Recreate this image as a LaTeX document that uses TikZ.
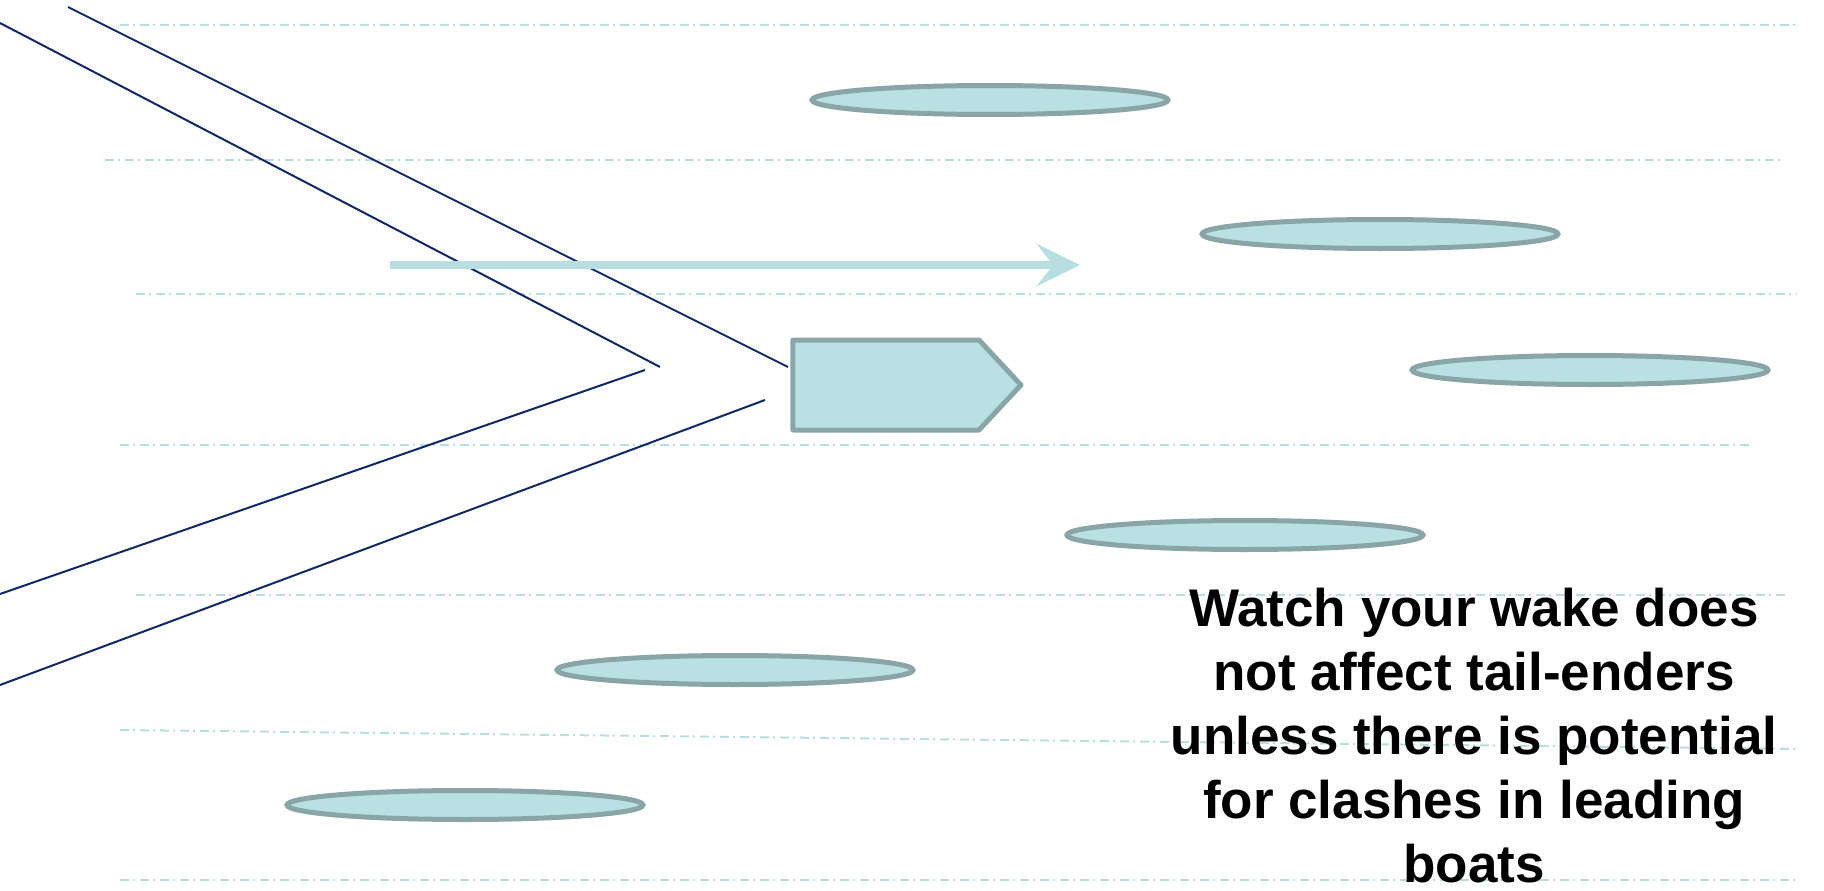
\documentclass[tikz,border=0pt]{standalone}
\usepackage{fontspec}
\setmainfont{Liberation Sans}
\usepackage{tikz}
\usetikzlibrary{arrows.meta, shapes.geometric, shapes.symbols}

\definecolor{lanecol}{HTML}{B7DEE0}
\definecolor{boatfill}{HTML}{B9E0E3}
\definecolor{boatline}{HTML}{8AA5A7}
\definecolor{wakenavy}{HTML}{10286A}

\begin{document}
\begin{tikzpicture}[
  x=1pt, y=-1pt,
  lane/.style={draw=lanecol, line width=2pt,
               dash pattern=on 9pt off 4pt on 2pt off 5pt},
  rival/.style={ellipse, draw=boatline, fill=boatfill, line width=5pt,
                minimum width=356pt, minimum height=29pt, inner sep=0pt},
  ownboat/.style={signal, signal to=east, signal pointer angle=94,
                  draw=boatline, fill=boatfill, line width=5pt, line join=round,
                  minimum width=228pt, minimum height=90pt, inner sep=0pt},
  wake/.style={draw=wakenavy, line width=2pt},
  course/.style={draw=lanecol, line width=8pt,
                 -{Stealth[length=43pt, width=42pt, inset=16pt]}},
]
\useasboundingbox (0,0) rectangle (1824,891);

% River lanes
\foreach \xa/\ya/\xb/\yb in {120/25/1795/25, 105/160/1781/160, 136/294/1797/294,
    120/445/1753/445, 136/595/1785/595, 120/730/1800/749, 120/880/1797/880}
  \draw[lane] (\xa,\ya) -- (\xb,\yb);

% Wake
\coordinate (wa1) at (0,23);   \coordinate (wa2) at (660,367);
\coordinate (wb1) at (68,7);   \coordinate (wb2) at (788,367);
\coordinate (wc1) at (0,594);  \coordinate (wc2) at (645,370);
\coordinate (wd1) at (0,685);  \coordinate (wd2) at (765,400);
\draw[wake] (wa1) -- (wa2);
\draw[wake] (wb1) -- (wb2);
\draw[wake] (wc1) -- (wc2);
\draw[wake] (wd1) -- (wd2);

% Course
\coordinate (cs) at (390,265);
\coordinate (ce) at (1080,265);
\draw[course] (cs) -- (ce);

% Boats
\node[ownboat] (own) at (886,385) {};
\node[rival] (r1) at (990,100) {};
\node[rival] (r2) at (1380,234) {};
\node[rival] (r3) at (1590,370) {};
\node[rival] (r4) at (1245,535) {};
\node[rival] (r5) at (735,670) {};
\node[rival] (r6) at (465,805) {};

% Note
\node[font=\bfseries\fontsize{53pt}{64pt}\selectfont, align=center, anchor=base,
      inner sep=1pt]
  (note) at (1474,882) {Watch your wake does\\not affect tail-enders\\unless there is potential\\for clashes in leading\\boats};
\end{tikzpicture}
\end{document}
